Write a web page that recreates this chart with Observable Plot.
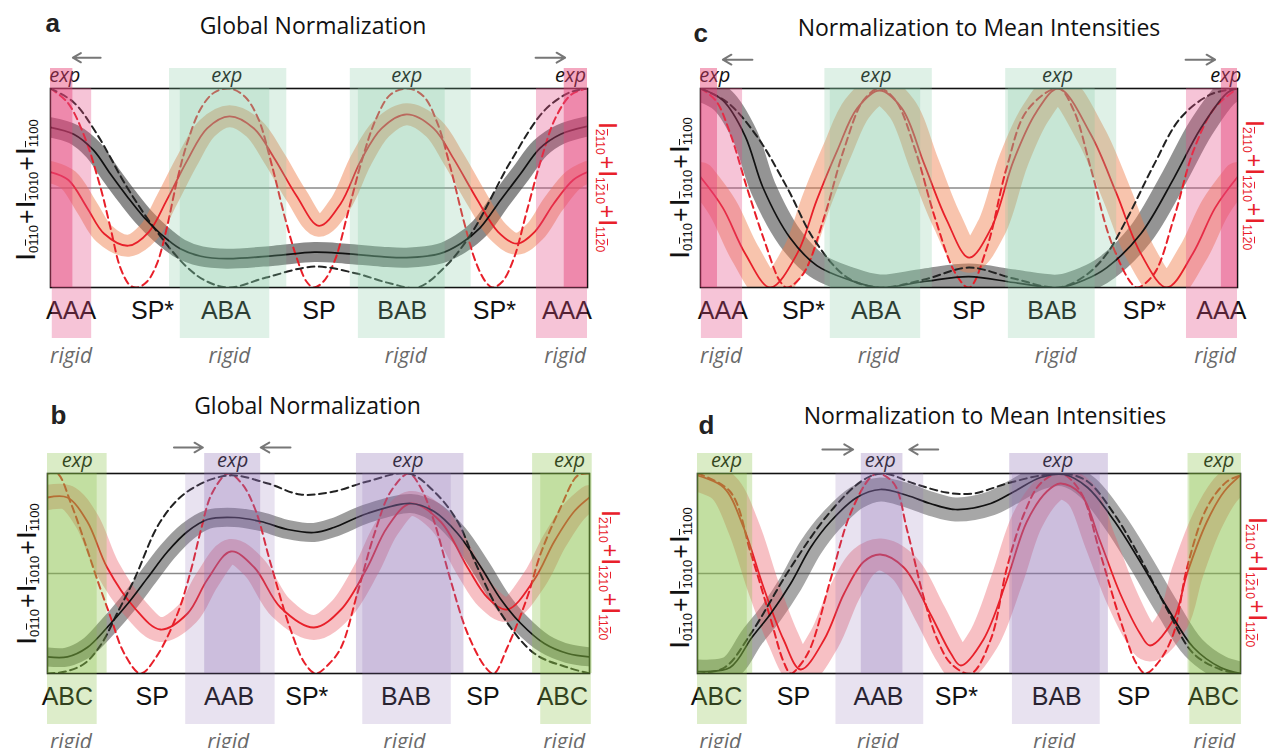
<!DOCTYPE html>
<html><head><meta charset="utf-8">
<script src="https://cdn.jsdelivr.net/npm/d3@7"></script>
<script src="https://cdn.jsdelivr.net/npm/@observablehq/plot@0.6"></script>
<style>
body{margin:0;background:#fff;}
#fig{position:relative;width:1268px;height:748px;overflow:hidden;background:#fff;}
.panel{position:absolute;width:634px;height:374px;}
.ylab{position:absolute;font-family:"Liberation Sans",Arial,sans-serif;font-size:28px;line-height:1;white-space:nowrap;z-index:5;}
.ylab sub{font-size:13px;vertical-align:-3px;}
.ylab .pl{margin:0 1px;font-size:25px;}
.ob{text-decoration:overline;}
.left{transform:translate(-50%,-50%) rotate(-90deg);color:#111;}
.right{transform:translate(-50%,-50%) rotate(90deg);color:#e8202a;font-size:25px;}
.right sub{font-size:12px;}
.right .pl{font-size:23px;}
</style></head><body><div id="fig"></div>
<script>
// ---------- data (x in stacking-path units 0..6, y normalized intensity 0..1) ----------
const topStates = ["AAA","SP*","ABA","SP","BAB","SP*","AAA"];
const bottomStates = ["ABC","SP","AAB","SP*","BAB","SP","ABC"];

// panel a : Global Normalization (AAA path)
const aBlackSolid = [[0,0.805],[0.26,0.77],[0.48,0.69],[0.67,0.57],[0.86,0.455],[1.04,0.355],[1.23,0.27],[1.45,0.195],[1.68,0.157],[1.97,0.145],[2.5,0.16],[2.95,0.178],[3.3,0.17],[3.7,0.155],[3.98,0.15],[4.35,0.17],[4.58,0.22],[4.8,0.30],[5.03,0.44],[5.25,0.57],[5.47,0.70],[5.7,0.77],[6,0.81]];
const aBlackDashed = [[0,1.0],[0.26,0.93],[0.52,0.77],[0.86,0.50],[1.19,0.28],[1.53,0.10],[1.75,0.03],[2.0,0.0],[2.41,0.05],[2.95,0.105],[3.42,0.07],[3.8,0.02],[4.1,0.0],[4.4,0.1],[4.7,0.27],[5.15,0.64],[5.52,0.89],[5.8,0.98],[6,1.0]];
const aRedSolid = [[0,0.58],[0.2,0.54],[0.41,0.40],[0.6,0.27],[0.87,0.21],[1.1,0.28],[1.3,0.44],[1.53,0.64],[1.75,0.80],[2,0.86],[2.27,0.80],[2.5,0.65],[2.75,0.46],[3,0.31],[3.24,0.42],[3.47,0.64],[3.7,0.80],[3.98,0.87],[4.28,0.80],[4.5,0.65],[4.77,0.44],[5,0.28],[5.21,0.22],[5.41,0.28],[5.62,0.42],[5.84,0.54],[6,0.58]];
const aRedDashed = [[0,1],[0.19,0.93],[0.37,0.77],[0.56,0.50],[0.67,0.30],[0.78,0.10],[0.89,0.01],[0.97,0],[1.08,0.03],[1.19,0.12],[1.3,0.30],[1.41,0.53],[1.53,0.73],[1.68,0.90],[1.83,0.98],[2,1],[2.17,0.96],[2.32,0.85],[2.47,0.62],[2.62,0.35],[2.75,0.15],[2.86,0.03],[2.94,0],[3.05,0.03],[3.18,0.14],[3.32,0.37],[3.48,0.64],[3.64,0.85],[3.8,0.97],[4,1],[4.17,0.96],[4.32,0.83],[4.47,0.6],[4.62,0.33],[4.75,0.13],[4.86,0.03],[4.94,0],[5.05,0.03],[5.18,0.15],[5.32,0.38],[5.48,0.64],[5.64,0.85],[5.82,0.97],[6,1]];
const aStateX = [0.23,1.14,1.96,3.0,3.93,4.96,5.77];
const aExpX = [0.16,1.97,3.98,5.81];
const aRigidX = [0.23,2.0,3.97,5.75];
const aExpBands = [[0,0.25,"pink"],[1.33,2.64,"mint"],[3.35,4.70,"mint"],[5.74,6.0,"pink"]];
const aRigidBands = [[0.02,0.46,"pink"],[1.45,2.45,"mint"],[3.44,4.41,"mint"],[5.43,6.0,"pink"]];
const aArrows = [{from:0.56,to:0.25},{from:5.42,to:5.75}];

// panel c : Normalization to Mean Intensities (AAA path)
const cBlackSolid = [[0,1.0],[0.25,0.94],[0.5,0.76],[0.7,0.5],[1,0.25],[1.3,0.11],[1.65,0.04],[2,0.0],[2.5,0.03],[3,0.055],[3.5,0.025],[4,0.0],[4.3,0.04],[4.54,0.10],[4.92,0.27],[5.29,0.55],[5.59,0.80],[5.89,0.98],[6,1.0]];
const cBlackDashed = [[0,1],[0.3,0.93],[0.63,0.76],[0.97,0.50],[1.27,0.24],[1.64,0.05],[2,0],[2.5,0.04],[3,0.10],[3.5,0.045],[4,0],[4.3,0.06],[4.54,0.17],[4.77,0.35],[5.07,0.62],[5.36,0.85],[5.7,0.97],[6,1]];
const cRedSolid = [[0,0.555],[0.25,0.40],[0.5,0.17],[0.78,0.0],[1.08,0.17],[1.3,0.44],[1.53,0.69],[1.75,0.90],[2,0.99],[2.25,0.90],[2.5,0.62],[2.75,0.34],[3,0.15],[3.25,0.30],[3.5,0.64],[3.75,0.88],[4,1.0],[4.36,0.77],[4.65,0.47],[4.92,0.17],[5.21,0.0],[5.5,0.17],[5.75,0.40],[6,0.555]];
const cRedDashed = [[0,1],[0.17,0.94],[0.335,0.77],[0.52,0.5],[0.71,0.24],[0.89,0.03],[0.97,0],[1.15,0.07],[1.38,0.35],[1.6,0.69],[1.82,0.94],[2,1],[2.18,0.94],[2.4,0.69],[2.62,0.35],[2.85,0.07],[3.0,0],[3.2,0.2],[3.42,0.6],[3.65,0.89],[4,1],[4.17,0.89],[4.36,0.6],[4.58,0.24],[4.8,0.03],[4.88,0],[5.07,0.07],[5.29,0.35],[5.51,0.69],[5.74,0.9],[6,1]];
const cStateX = [0.25,1.15,1.96,3.0,3.93,4.96,5.82];
const cExpX = [0.16,1.96,3.99,5.87];
const cRigidX = [0.23,1.99,3.97,5.75];
const cExpBands = [[0,0.19,"pink"],[1.39,2.59,"mint"],[3.41,4.65,"mint"],[5.82,6.0,"pink"]];
const cRigidBands = [[0.01,0.47,"pink"],[1.45,2.46,"mint"],[3.44,4.41,"mint"],[5.43,6.0,"pink"]];
const cArrows = [{from:0.58,to:0.25},{from:5.42,to:5.75}];

// panel b : Global Normalization (ABC path)
const bBlackSolid = [[0,0.083],[0.22,0.083],[0.44,0.13],[0.66,0.23],[0.89,0.35],[1.11,0.48],[1.33,0.61],[1.55,0.71],[1.77,0.77],[2.07,0.78],[2.36,0.76],[2.66,0.72],[2.95,0.705],[3.17,0.73],[3.54,0.80],[4.02,0.85],[4.28,0.81],[4.54,0.70],[4.8,0.53],[5.02,0.37],[5.24,0.25],[5.5,0.15],[5.76,0.10],[6,0.083]];
const bBlackDashed = [[0,0],[0.2,0.01],[0.41,0.05],[0.6,0.15],[0.77,0.30],[0.96,0.47],[1.25,0.76],[1.55,0.91],[2,0.99],[2.44,0.95],[2.8,0.895],[3.17,0.91],[3.54,0.96],[4,1],[4.28,0.91],[4.54,0.76],[4.76,0.53],[5.02,0.30],[5.39,0.10],[5.76,0.03],[6,0]];
const bRedSolid = [[0,0.88],[0.22,0.88],[0.44,0.76],[0.66,0.53],[0.96,0.33],[1.25,0.22],[1.55,0.30],[1.77,0.47],[2.03,0.61],[2.29,0.53],[2.58,0.33],[2.95,0.23],[3.25,0.32],[3.54,0.53],[3.76,0.73],[4.02,0.85],[4.35,0.76],[4.65,0.53],[4.87,0.38],[5.09,0.32],[5.39,0.47],[5.61,0.66],[5.83,0.81],[6,0.88]];
const bRedDashed = [[0,1],[0.11,1.0],[0.26,0.85],[0.41,0.66],[0.55,0.47],[0.7,0.28],[0.85,0.1],[1.03,0],[1.2,0.08],[1.44,0.3],[1.59,0.52],[1.7,0.72],[1.82,0.9],[2,1],[2.15,0.95],[2.3,0.82],[2.47,0.55],[2.69,0.22],[2.85,0.05],[2.97,0],[3.12,0.05],[3.25,0.13],[3.43,0.40],[3.62,0.70],[3.8,0.91],[4,1],[4.13,0.93],[4.28,0.76],[4.46,0.47],[4.65,0.2],[4.85,0.03],[4.94,0],[5.09,0.13],[5.31,0.38],[5.46,0.60],[5.68,0.83],[5.87,0.99],[6,1]];
const bStateX = [0.22,1.16,2.01,2.87,3.97,4.82,5.70];
const bExpX = [0.33,2.05,3.99,5.78];
const bRigidX = [0.26,2.0,3.95,5.72];
const bExpBands = [[0,0.66,"lime"],[1.74,2.36,"lilac"],[3.42,4.61,"lilac"],[5.37,6.03,"lime"]];
const bRigidBands = [[0,0.55,"lime"],[1.53,2.52,"lilac"],[3.49,4.47,"lilac"],[5.46,6.02,"lime"]];
const bArrows = [{from:1.40,to:1.72},{from:2.69,to:2.36}];

// panel d : Normalization to Mean Intensities (ABC path)
const dBlackSolid = [[0,0.01],[0.36,0.03],[0.6,0.18],[0.81,0.30],[1.03,0.45],[1.25,0.63],[1.47,0.76],[1.76,0.88],[2.02,0.92],[2.32,0.89],[2.57,0.85],[2.85,0.82],[3.24,0.85],[3.5,0.91],[3.79,0.98],[4.05,0.995],[4.31,0.93],[4.61,0.76],[4.89,0.56],[5.19,0.33],[5.48,0.13],[5.78,0.03],[6,0.0]];
const dBlackDashed = [[0,0],[0.3,0.03],[0.59,0.2],[1.03,0.53],[1.47,0.81],[1.84,0.97],[2.06,1.0],[2.39,0.95],[2.75,0.905],[3.05,0.90],[3.42,0.95],[3.79,0.99],[4.05,1.0],[4.31,0.96],[4.6,0.80],[4.89,0.58],[5.19,0.32],[5.48,0.10],[5.78,0.02],[6,0]];
const dRedSolid = [[0,0.99],[0.29,0.93],[0.51,0.73],[0.73,0.43],[0.95,0.17],[1.14,0.02],[1.4,0.17],[1.62,0.40],[1.84,0.56],[2.02,0.595],[2.28,0.53],[2.57,0.30],[2.8,0.10],[2.91,0.04],[3.16,0.17],[3.42,0.47],[3.64,0.76],[3.86,0.91],[4.01,0.95],[4.23,0.90],[4.45,0.66],[4.67,0.40],[4.89,0.20],[5.0,0.14],[5.26,0.27],[5.41,0.50],[5.63,0.76],[5.82,0.91],[6,0.99]];
const dRedDashed = [[0,1.0],[0.36,0.91],[0.59,0.60],[0.81,0.27],[0.95,0.06],[1.03,0.0],[1.13,0.04],[1.25,0.13],[1.47,0.47],[1.69,0.80],[1.91,0.98],[2.0,1.0],[2.17,0.95],[2.32,0.71],[2.5,0.38],[2.65,0.17],[2.8,0.05],[3.02,0],[3.24,0.17],[3.42,0.53],[3.61,0.80],[3.79,0.95],[4.01,1.0],[4.23,0.91],[4.45,0.60],[4.67,0.27],[4.85,0.05],[4.95,0],[5.1,0.06],[5.26,0.2],[5.41,0.53],[5.63,0.83],[5.85,0.96],[6,0.99]];
const dStateX = [0.21,1.06,2.0,2.86,3.97,4.82,5.70];
const dExpX = [0.32,2.02,3.98,5.76];
const dRigidX = [0.25,1.99,3.94,5.71];
const dExpBands = [[0,0.61,"lime"],[1.81,2.27,"lilac"],[3.45,4.54,"lilac"],[5.42,6.01,"lime"]];
const dRigidBands = [[0,0.55,"lime"],[1.53,2.50,"lilac"],[3.48,4.45,"lilac"],[5.44,6.01,"lime"]];
const dArrows = [{from:1.38,to:1.72},{from:2.66,to:2.34}];

// ---------- styles ----------
const RED = "#e8202a";
const EXP = {pink:"rgba(231,62,115,0.45)", mint:"rgba(127,199,159,0.25)", lime:"rgba(132,192,65,0.30)", lilac:"rgba(140,110,180,0.30)"};
const RIGID = {pink:"rgba(228,70,130,0.32)", mint:"rgba(127,199,159,0.25)", lime:"rgba(132,192,65,0.28)", lilac:"rgba(140,110,180,0.20)"};
const SANS = "Liberation Sans, Arial, sans-serif";
const MYR = "Open Sans, sans-serif";

const panels = [
  {left:0, top:0, ml:50, mr:47, mt:88, mb:87, title:"Global Normalization", tdx:-6, tdy:-55, letter:"a", ldx:-5, ldy:-57,
   bs:aBlackSolid, bd:aBlackDashed, rs:aRedSolid, rd:aRedDashed, grayW:20, grayOp:0.6, redW:22, band:"#ef7d4a", bandOp:0.47,
   states:topStates, stateX:aStateX, expX:aExpX, rigidX:aRigidX, expB:aExpBands, rigidB:aRigidBands, arrows:aArrows, arrowY:1.155},
  {left:634, top:0, ml:66, mr:31, mt:88, mb:87, title:"Normalization to Mean Intensities", tdx:10, tdy:-53, letter:"c", ldx:-7, ldy:-47,
   bs:cBlackSolid, bd:cBlackDashed, rs:cRedSolid, rd:cRedDashed, grayW:26, grayOp:0.55, redW:30, band:"#ef7d4a", bandOp:0.45,
   states:topStates, stateX:cStateX, expX:cExpX, rigidX:cRigidX, expB:cExpBands, rigidB:cRigidBands, arrows:cArrows, arrowY:1.145},
  {left:0, top:374, ml:47, mr:45, mt:99, mb:75, title:"Global Normalization", tdx:-11, tdy:-60, letter:"b", ldx:3, ldy:-50,
   bs:bBlackSolid, bd:bBlackDashed, rs:bRedSolid, rd:bRedDashed, grayW:19, grayOp:0.5, redW:25, band:"#eb5a64", bandOp:0.38,
   states:bottomStates, stateX:bStateX, expX:bExpX, rigidX:bRigidX, expB:bExpBands, rigidB:bRigidBands, arrows:bArrows, arrowY:1.13},
  {left:634, top:374, ml:63, mr:28, mt:99, mb:75, title:"Normalization to Mean Intensities", tdx:16, tdy:-50, letter:"d", ldx:1, ldy:-40,
   bs:dBlackSolid, bd:dBlackDashed, rs:dRedSolid, rd:dRedDashed, grayW:24, grayOp:0.45, redW:32, band:"#eb5a64", bandOp:0.38,
   states:bottomStates, stateX:dStateX, expX:dExpX, rigidX:dRigidX, expB:dExpBands, rigidB:dRigidBands, arrows:dArrows, arrowY:1.12}
];

const pts = arr => arr.map(([u, v]) => ({u, v}));
const fig = document.getElementById("fig");

for (const p of panels) {
  const L = {x:"u", y:"v", curve:"catmull-rom", clip:true};
  const chart = Plot.plot({
    width:634, height:374,
    marginLeft:p.ml, marginRight:p.mr, marginTop:p.mt, marginBottom:p.mb,
    x:{domain:[0,6], axis:null},
    y:{domain:[0,1], axis:null},
    color:{type:"identity"},
    marks:[
      Plot.ruleY([0.5], {stroke:"#8a8a8a", strokeWidth:1.6}),
      Plot.line(pts(p.bs), {...L, stroke:"#3c3c3c", strokeOpacity:p.grayOp, strokeWidth:p.grayW}),
      Plot.line(pts(p.rs), {...L, stroke:p.band, strokeOpacity:p.bandOp, strokeWidth:p.redW}),
      Plot.line(pts(p.rs), {...L, stroke:RED, strokeWidth:1.8}),
      Plot.line(pts(p.rd), {...L, stroke:RED, strokeWidth:2, strokeDasharray:"7,4.5"}),
      Plot.line(pts(p.bd), {...L, stroke:"#222", strokeWidth:2, strokeDasharray:"7,4.5"}),
      Plot.line(pts(p.bs), {...L, stroke:"#111", strokeWidth:1.7}),
      Plot.frame({stroke:"#111", strokeWidth:1.6}),
      Plot.text(p.states.map((t, i) => ({t, u:p.stateX[i]})), {x:"u", text:"t", frameAnchor:"bottom", lineAnchor:"bottom", dy:31, fontSize:25, fontFamily:SANS, fill:"#111"}),
      Plot.text(p.expX, {x:d => d, text:() => "exp", frameAnchor:"top", lineAnchor:"bottom", dy:-7, fontSize:20, fontStyle:"italic", fontFamily:MYR, fill:"#111"}),
      Plot.text(p.rigidX, {x:d => d, text:() => "rigid", frameAnchor:"bottom", lineAnchor:"bottom", dy:75, fontSize:21, fontStyle:"italic", fontFamily:MYR, fill:"#6a6a6a"}),
      Plot.arrow(p.arrows, {x1:"from", x2:"to", y1:() => p.arrowY, y2:() => p.arrowY, stroke:"#777", strokeWidth:2, headLength:10}),
      Plot.barX(p.expB, {x1:d => d[0], x2:d => d[1], fill:d => EXP[d[2]], insetTop:-20}),
      Plot.barX(p.rigidB, {x1:d => d[0], x2:d => d[1], fill:d => RIGID[d[2]], insetBottom:-51}),
      Plot.text([p.title], {frameAnchor:"top", text:d => d, dx:p.tdx, dy:p.tdy, lineAnchor:"bottom", fontSize:23, fontFamily:MYR, fill:"#111"}),
      Plot.text([p.letter], {frameAnchor:"top-left", textAnchor:"start", text:d => d, dx:p.ldx, dy:p.ldy, lineAnchor:"bottom", fontSize:26, fontWeight:"bold", fontFamily:SANS, fill:"#222"})
    ]
  });
  const div = document.createElement("div");
  div.className = "panel";
  div.style.left = p.left + "px";
  div.style.top = p.top + "px";
  div.appendChild(chart);
  fig.appendChild(div);
}

// axis titles (rotated, with subscripts and overbars)
const leftLab = 'I<sub>0<span class="ob">1</span>10</sub><span class="pl">+</span>I<sub><span class="ob">1</span>010</sub><span class="pl">+</span>I<sub><span class="ob">1</span>100</sub>';
const rightLab = 'I<sub><span class="ob">2</span>110</sub><span class="pl">+</span>I<sub>1<span class="ob">2</span>10</sub><span class="pl">+</span>I<sub>11<span class="ob">2</span>0</sub>';
const labPos = [
  {cls:"left", html:leftLab, x:26, y:190}, {cls:"right", html:rightLab, x:607, y:187},
  {cls:"left", html:leftLab, x:680, y:188}, {cls:"right", html:rightLab, x:1254, y:185},
  {cls:"left", html:leftLab, x:27, y:574}, {cls:"right", html:rightLab, x:610, y:575},
  {cls:"left", html:leftLab, x:680, y:578}, {cls:"right", html:rightLab, x:1257, y:582}
];
for (const l of labPos) {
  const d = document.createElement("div");
  d.className = "ylab " + l.cls;
  d.style.left = l.x + "px";
  d.style.top = l.y + "px";
  d.innerHTML = l.html;
  fig.appendChild(d);
}
</script></body></html>
